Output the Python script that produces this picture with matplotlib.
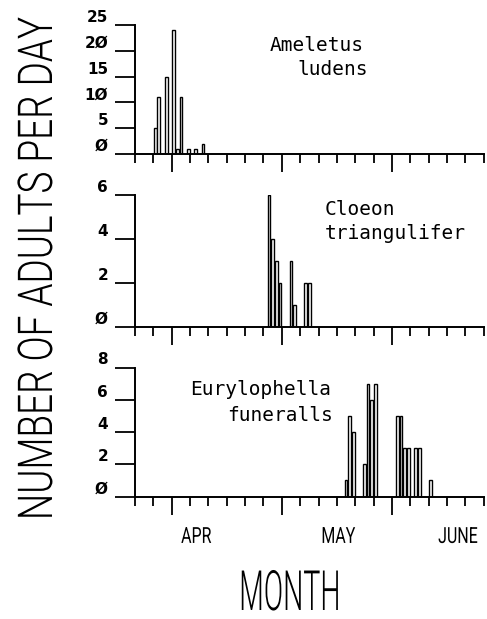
import matplotlib
matplotlib.use("Agg")
import matplotlib.pyplot as plt
import matplotlib.patheffects as pe
from matplotlib.transforms import Affine2D, blended_transform_factory
import numpy as np

# day index counted from the left end of the time axis, one tick = 5 days
ameletus_days = [5, 6, 8, 10, 11, 12, 14, 16, 18]
ameletus_counts = [5, 11, 15, 24, 1, 11, 1, 1, 2]
cloeon_days = [36, 37, 38, 39, 42, 43, 46, 47]
cloeon_counts = [6, 4, 3, 2, 3, 1, 2, 2]
eury_days = [57, 58, 59, 62, 63, 64, 65, 71, 72, 73, 74, 76, 77, 80]
eury_counts = [1, 5, 4, 2, 7, 6, 7, 5, 5, 3, 3, 3, 3, 1]

ameletus_yticks = [0, 5, 10, 15, 20, 25]
cloeon_yticks = [0, 2, 4, 6]
eury_yticks = [0, 2, 4, 6, 8]

month_names = ["APR", "MAY", "JUNE"]
month_pos = [16.7, 55.4, 88.0]


class Tall(pe.AbstractPathEffect):
    """Stretch glyphs away from the baseline, giving a tall condensed look."""

    def __init__(self, sy):
        super().__init__()
        self.sy = sy

    def draw_path(self, renderer, gc, tpath, affine, rgbFace=None):
        affine = Affine2D().scale(1, self.sy) + affine
        renderer.draw_path(gc, tpath, affine, rgbFace)


W, H = 487, 619
fig = plt.figure(figsize=(W / 100, H / 100), dpi=100)

left = 135 / W
width = (483.7 - 135) / W
# (zero line, top line) in pixels from the top
rows = [(154, 25), (327, 195), (496.5, 367.5)]

panels = [
    (ameletus_days, ameletus_counts, ameletus_yticks),
    (cloeon_days, cloeon_counts, cloeon_yticks),
    (eury_days, eury_counts, eury_yticks),
]

big_font = ["Roboto", "DejaVu Sans"]
axes = []
for (y0, y1), (days, counts, yt) in zip(rows, panels):
    ax = fig.add_axes([left, (H - y0) / H, width, (y0 - y1) / H])
    ax.bar(np.array(days) + 0.5, counts, width=0.75, facecolor="white",
           edgecolor="black", linewidth=1.0)
    ax.set_xlim(0, 95)
    ax.set_ylim(0, yt[-1])
    for s in ["top", "right"]:
        ax.spines[s].set_visible(False)
    for s in ["left", "bottom"]:
        ax.spines[s].set_linewidth(1.4)

    ax.set_xticks([10, 40, 70])
    ax.set_xticks([d for d in range(0, 96, 5) if d not in (10, 40, 70)], minor=True)
    ax.tick_params(axis="x", which="major", length=13, width=1.3, direction="out",
                   labelbottom=False)
    ax.tick_params(axis="x", which="minor", length=6.5, width=1.3, direction="out")

    ax.set_yticks(yt)
    ax.set_yticklabels([str(v).replace("0", "Ø") for v in yt])
    ax.tick_params(axis="y", length=14.4, width=1.3, direction="out", pad=5,
                   labelsize=11)
    for lbl in ax.get_yticklabels():
        lbl.set_fontweight("bold")
        lbl.set_va("bottom")
    axes.append(ax)

# month names under the bottom panel
trans = blended_transform_factory(axes[2].transData, axes[2].transAxes)
for name, pos in zip(month_names, month_pos):
    axes[2].text(pos, -0.36, name, transform=trans, ha="center", va="baseline",
                 fontsize=11.5, family=big_font, path_effects=[Tall(1.39)])

# species names
mono = dict(family="DejaVu Sans Mono", fontsize=14, va="baseline")
fig.text(270 / W, 1 - 51 / H, "Ameletus", ha="left", **mono)
fig.text(297 / W, 1 - 75 / H, "ludens", ha="left", **mono)
fig.text(325 / W, 1 - 215 / H, "Cloeon", ha="left", **mono)
fig.text(325 / W, 1 - 239 / H, "triangulifer", ha="left", **mono)
fig.text(331 / W, 1 - 395 / H, "Eurylophella", ha="right", **mono)
fig.text(333 / W, 1 - 421 / H, "funeralls", ha="right", **mono)

fig.text(52 / W, 1 - 269 / H, "NUMBER OF ADULTS PER DAY", rotation=90,
         rotation_mode="anchor", ha="center", va="baseline", fontsize=26.6,
         family=big_font, fontweight=300, path_effects=[Tall(1.3)])
fig.text(290 / W, 1 - 610 / H, "MONTH", ha="center", va="baseline",
         fontsize=20.5, family=big_font, fontweight=300,
         path_effects=[Tall(1.95)])

fig.savefig("out.png", dpi=100)
